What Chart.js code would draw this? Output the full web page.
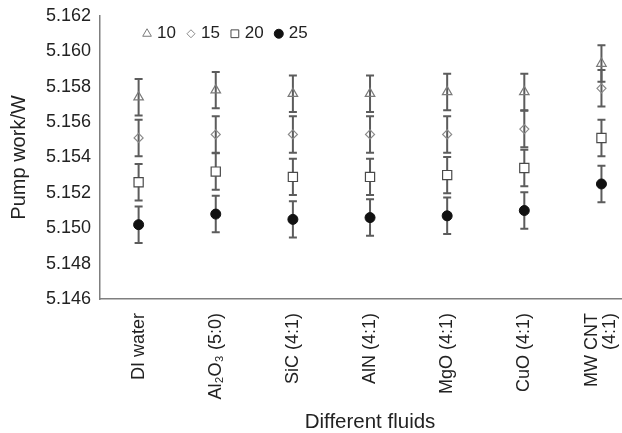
<!DOCTYPE html>
<html lang="en">
<head>
    <meta charset="UTF-8">
    <title>Pump work vs fluids</title>
    <script src="https://cdn.jsdelivr.net/npm/chart.js@4.4.3/dist/chart.umd.min.js"></script>
    <style>
        html, body { margin: 0; padding: 0; background: #fff; overflow: hidden; }
        #wrap { position: absolute; left: 0; top: 0; width: 652px; height: 433px; }
    </style>
</head>
<body>
    <div id="wrap"><canvas id="chart"></canvas></div>

    <script>
        // categories
        const fluids = ['DI water', 'Al₂O₃ (5:0)', 'SiC (4:1)', 'AlN (4:1)', 'MgO (4:1)', 'CuO (4:1)', ['MW CNT', '(4:1)']];

        // pump work values per series
        const series10 = [5.1574, 5.1578, 5.1576, 5.1576, 5.1577, 5.1577, 5.1593];
        const series15 = [5.1551, 5.1553, 5.1553, 5.1553, 5.1553, 5.1556, 5.1579];
        const series20 = [5.1526, 5.1532, 5.1529, 5.1529, 5.1530, 5.1534, 5.1551];
        const series25 = [5.1502, 5.1508, 5.1505, 5.1506, 5.1507, 5.1510, 5.1525];

        // error bar half-lengths
        const err10 = [0.00103, 0.00103, 0.00103, 0.00103, 0.00103, 0.00103, 0.00103];
        const err15 = [0.00103, 0.00103, 0.00103, 0.00103, 0.00103, 0.00103, 0.00103];
        const err20 = [0.00103, 0.00103, 0.00103, 0.00103, 0.00103, 0.00103, 0.00103];
        const err25 = [0.00103, 0.00103, 0.00103, 0.00103, 0.00103, 0.00103, 0.00103];

        const seriesNames = ['10', '15', '20', '25'];
        const yTicks = [5.146, 5.148, 5.150, 5.152, 5.154, 5.156, 5.158, 5.160, 5.162];

        Chart.defaults.font.family = '"Liberation Sans", Arial, Helvetica, sans-serif';
        Chart.defaults.color = '#222';

        // vertical error bars, drawn under the markers
        const errorBars = {
            id: 'errorBars',
            beforeDatasetsDraw(chart) {
                const ctx = chart.ctx;
                const yScale = chart.scales.y;
                ctx.save();
                ctx.strokeStyle = '#5c5c5c';
                ctx.lineWidth = 2;
                chart.data.datasets.forEach((ds, i) => {
                    const meta = chart.getDatasetMeta(i);
                    meta.data.forEach((pt, j) => {
                        const v = ds.data[j];
                        const e = ds.errors[j];
                        const top = yScale.getPixelForValue(v + e);
                        const bot = yScale.getPixelForValue(v - e);
                        ctx.beginPath();
                        ctx.moveTo(pt.x, top);
                        ctx.lineTo(pt.x, bot);
                        ctx.moveTo(pt.x - 4, top);
                        ctx.lineTo(pt.x + 4, top);
                        ctx.moveTo(pt.x - 4, bot);
                        ctx.lineTo(pt.x + 4, bot);
                        ctx.stroke();
                    });
                });
                ctx.restore();
            }
        };

        // centre the two-line last label on its tick, like the original
        const centreMultiLine = {
            id: 'centreMultiLine',
            beforeDraw(chart) {
                const xs = chart.scales.x;
                const items = xs.getLabelItems(chart.chartArea);
                items.forEach(item => {
                    if (Array.isArray(item.label) && !item._centred) {
                        item.textOffset -= (item.label.length - 1) * item.font.lineHeight / 2;
                        item._centred = true;
                    }
                });
            }
        };

        // legend inside the plot, top left
        const innerLegend = {
            id: 'innerLegend',
            afterDraw(chart) {
                const ctx = chart.ctx;
                const area = chart.chartArea;
                let x = area.left + 42;
                const y = area.top + 18;
                ctx.save();
                ctx.font = '17px "Liberation Sans", Arial, sans-serif';
                ctx.textBaseline = 'middle';
                chart.data.datasets.forEach(ds => {
                    ctx.strokeStyle = ds.borderColor;
                    ctx.fillStyle = ds.backgroundColor;
                    ctx.lineWidth = 1;
                    Chart.helpers.drawPoint(ctx, { pointStyle: ds.pointStyle, radius: ds.legendRadius, borderWidth: 1, rotation: 0 }, x + 5, y);
                    ctx.fillStyle = '#222';
                    ctx.fillText(ds.label, x + 15, y);
                    x += 15 + ctx.measureText(ds.label).width + 10;
                });
                ctx.restore();
            }
        };

        new Chart(document.getElementById('chart'), {
            type: 'line',
            data: {
                labels: fluids,
                datasets: [
                    { label: seriesNames[0], data: series10, errors: err10, pointStyle: 'triangle', pointRadius: 5.5, legendRadius: 5,
                      borderColor: '#7a7a7a', backgroundColor: 'rgba(255,255,255,0)', pointBorderWidth: 1.2 },
                    { label: seriesNames[1], data: series15, errors: err15, pointStyle: 'rectRot', pointRadius: 4.5, legendRadius: 4,
                      borderColor: '#8a8a8a', backgroundColor: 'rgba(255,255,255,0)', pointBorderWidth: 1.2 },
                    { label: seriesNames[2], data: series20, errors: err20, pointStyle: 'rect', pointRadius: 6.5, legendRadius: 5.5,
                      borderColor: '#4a4a4a', backgroundColor: '#ffffff', pointBorderWidth: 1.2 },
                    { label: seriesNames[3], data: series25, errors: err25, pointStyle: 'circle', pointRadius: 5, legendRadius: 4.5,
                      borderColor: '#111111', backgroundColor: '#111111', pointBorderWidth: 1 }
                ]
            },
            options: {
                responsive: true,
                maintainAspectRatio: false,
                animation: false,
                showLine: false,
                layout: { padding: { top: 0, right: 0, bottom: 0, left: 0 } },
                plugins: {
                    legend: { display: false },
                    tooltip: { enabled: false }
                },
                scales: {
                    x: {
                        offset: true,
                        grid: { display: false, drawTicks: false },
                        border: { display: true, color: '#7f7f7f', width: 1.5 },
                        ticks: {
                            autoSkip: false,
                            minRotation: 90,
                            maxRotation: 90,
                            padding: 14,
                            font: { size: 18, lineHeight: 1 },
                            color: '#222'
                        },
                        title: {
                            display: true,
                            text: 'Different fluids',
                            font: { size: 20.5 },
                            color: '#222',
                            padding: { top: -3, bottom: -2 }
                        }
                    },
                    y: {
                        min: 5.146,
                        max: 5.162,
                        afterBuildTicks: scale => { scale.ticks = yTicks.map(v => ({ value: v })); },
                        grid: { display: false, drawTicks: false },
                        border: { display: true, color: '#7f7f7f', width: 1.5 },
                        ticks: {
                            padding: 9,
                            font: { size: 18, lineHeight: 0.75 },
                            color: '#222',
                            callback: v => v.toFixed(3)
                        },
                        title: {
                            display: true,
                            text: 'Pump work/W',
                            font: { size: 20 },
                            color: '#222',
                            padding: { top: 7, bottom: 6 }
                        }
                    }
                }
            },
            plugins: [errorBars, centreMultiLine, innerLegend]
        });
    </script>
</body>
</html>
